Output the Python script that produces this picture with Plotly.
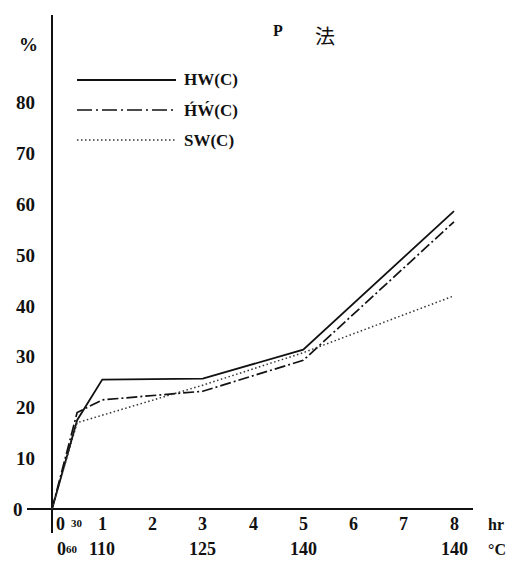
import plotly.graph_objects as go

# Hours of treatment and yields (%) for the three samples
hours = [0, 0.5, 1, 3, 5, 8]
hw_c = [0, 17.5, 25.5, 25.7, 31.4, 58.7]
hw2_c = [0, 19.0, 21.5, 23.2, 29.3, 56.6]
sw_hours = [0, 0.5, 3, 5, 8]
sw_c = [0, 17.0, 24.4, 30.8, 42.0]

# Axis labelling
y_ticks = [0, 10, 20, 30, 40, 50, 60, 70, 80]
hr_ticks = [1, 2, 3, 4, 5, 6, 7, 8]
temp_pos = [1, 3, 5, 8]
temp_labels = ["110", "125", "140", "140"]

W, H = 518, 564
SERIF = "Liberation Serif"
INK = "#111111"


def px(x):
    return x / W


def py(y):
    return 1 - y / H


fig = go.Figure()

fig.add_trace(go.Scatter(x=hours, y=hw_c, mode="lines", name="HW(C)",
                         line=dict(color=INK, width=1.8)))
fig.add_trace(go.Scatter(x=hours, y=hw2_c, mode="lines", name="H\u0301\u1E82(C)",
                         line=dict(color=INK, width=1.7, dash="11px,3px,2px,3px")))
fig.add_trace(go.Scatter(x=sw_hours, y=sw_c, mode="lines", name="SW(C)",
                         line=dict(color="#333333", width=1.5, dash="1.5px,2.5px")))

ann = []
big = dict(family=SERIF, size=19, color=INK)
mid = dict(family=SERIF, size=18, color=INK)
small = dict(family=SERIF, size=11, color=INK)


def note(x, y, text, font, xref="paper", yref="paper", xanchor="center", **kw):
    ann.append(dict(x=x, y=y, xref=xref, yref=yref, text=text, showarrow=False,
                    xanchor=xanchor, yanchor="middle", font=font, **kw))


# y tick labels
for v in y_ticks:
    note(px(25 if v == 0 else 37), v, f"<b>{v}</b>", big, yref="y", xanchor="right")
note(px(28), py(45), "<b>%</b>", big)

# hour row
row1 = py(524)
row2 = py(549)
note(0, row1, "<b>0</b>", mid, xref="x", xanchor="left", xshift=2)
note(0.5, row1, "<b>30</b>", small, xref="x", yshift=1)
for h in hr_ticks:
    note(h, row1, f"<b>{h}</b>", mid, xref="x")
note(px(496), row1, "<b>hr</b>", dict(family=SERIF, size=16, color=INK))

# temperature row
note(0, row2, "<b>0</b>", mid, xref="x", xanchor="left", xshift=3)
note(0.5, row2, "<b>60</b>", small, xref="x", xshift=-5)
for p, t in zip(temp_pos, temp_labels):
    note(p, row2, f"<b>{t}</b>", mid, xref="x")
note(px(497), row2, "<b>°C</b>", dict(family=SERIF, size=16, color=INK))

# title
note(px(278), py(31), "<b>P</b>", dict(family=SERIF, size=16, color=INK))
note(px(325), py(36), "法", dict(family="Noto Sans CJK JP", size=20, color=INK))

# legend keys
shapes = []
legend_rows = [(80, "solid", 1.8, INK, "HW(C)"),
               (110, "15px,4px,2px,4px", 1.7, INK, "H\u0301\u1E82(C)"),
               (140, "1.5px,2.5px", 1.5, "#333333", "SW(C)")]
for yy, dash, wdt, col, label in legend_rows:
    shapes.append(dict(type="line", xref="paper", yref="paper",
                       x0=px(77), x1=px(176), y0=py(yy), y1=py(yy),
                       line=dict(color=col, width=wdt, dash=dash)))
    note(px(182), py(yy), f"<b>{label}</b>", dict(family=SERIF, size=17, color=INK),
         xanchor="left")

x_left = (27 - 52) / 50.25
x_right = (473 - 52) / 50.25
y_top = (509 - 15) / 5.075
y_bot = (509 - 533) / 5.075

fig.update_layout(
    width=W, height=H,
    margin=dict(l=0, r=0, t=0, b=0),
    paper_bgcolor="white", plot_bgcolor="white",
    showlegend=False,
    annotations=ann, shapes=shapes,
    xaxis=dict(domain=[px(27), px(473)], range=[x_left, x_right],
               showgrid=False, showticklabels=False, ticks="",
               zeroline=True, zerolinecolor=INK, zerolinewidth=2, showline=False),
    yaxis=dict(domain=[py(533), py(15)], range=[y_bot, y_top],
               showgrid=False, showticklabels=False, ticks="",
               zeroline=True, zerolinecolor=INK, zerolinewidth=2, showline=False),
)

fig.write_html("out.html", config={"displayModeBar": False})
